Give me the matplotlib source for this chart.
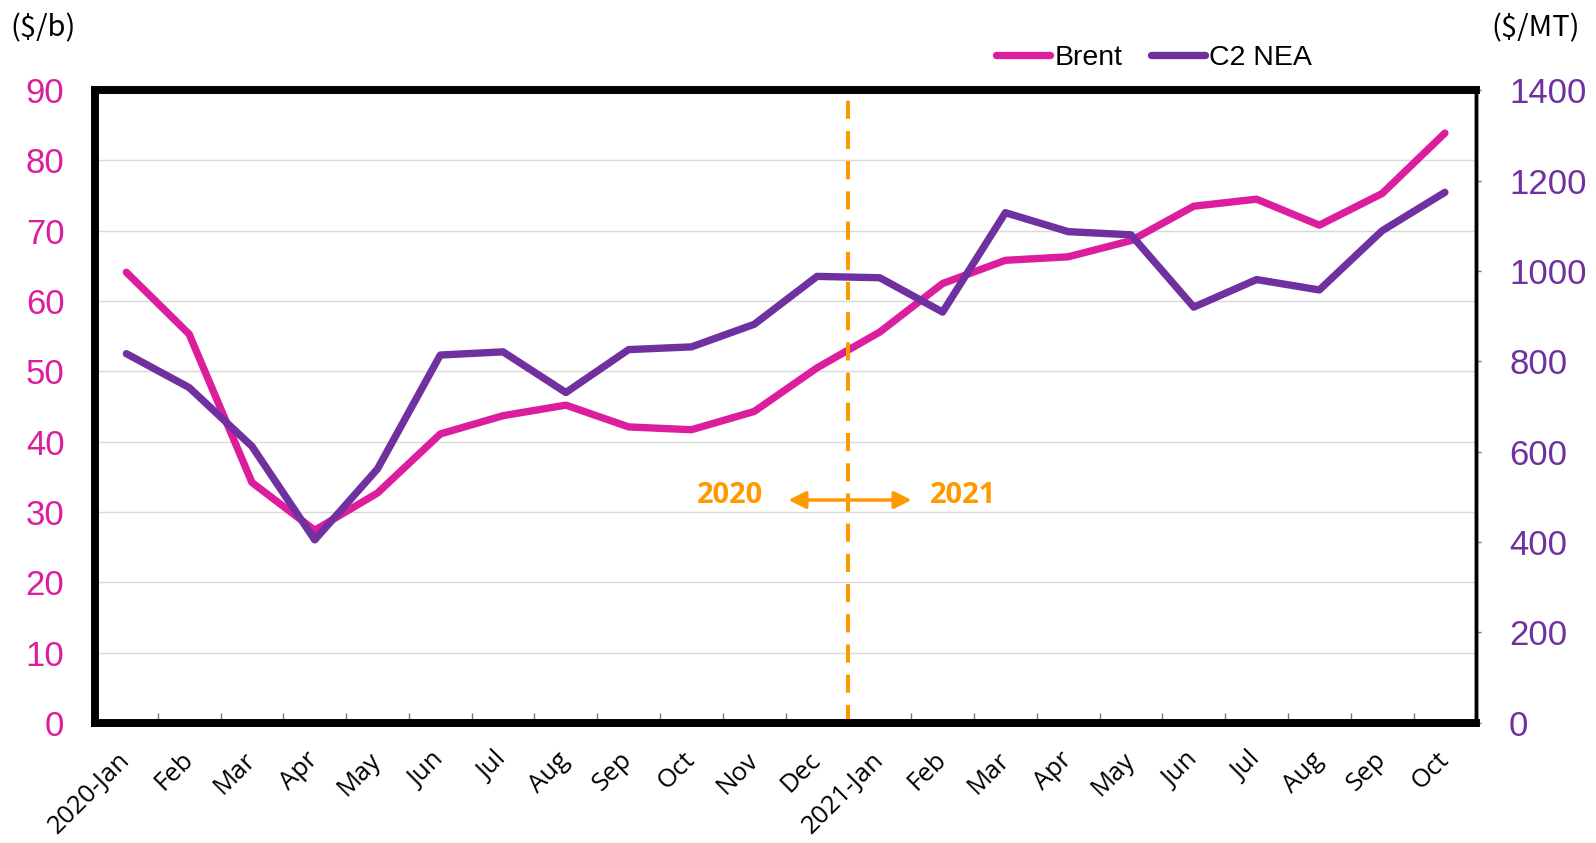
import matplotlib
matplotlib.use("Agg")
import matplotlib.pyplot as plt

plt.rcParams.update({"font.family": "Open Sans"})

months = ["2020-Jan", "Feb", "Mar", "Apr", "May", "Jun", "Jul", "Aug", "Sep", "Oct", "Nov", "Dec",
          "2021-Jan", "Feb", "Mar", "Apr", "May", "Jun", "Jul", "Aug", "Sep", "Oct"]
brent = [64.1, 55.3, 34.2, 27.4, 32.7, 41.1, 43.7, 45.2, 42.1, 41.7, 44.3, 50.5,
         55.6, 62.5, 65.8, 66.3, 68.6, 73.5, 74.5, 70.8, 75.3, 83.9]
c2_nea = [817, 742, 612, 405, 562, 814, 821, 731, 826, 832, 882, 988,
          985, 909, 1129, 1087, 1080, 920, 981, 958, 1089, 1174]
left_ticks = [0, 10, 20, 30, 40, 50, 60, 70, 80, 90]
right_ticks = [0, 200, 400, 600, 800, 1000, 1200, 1400]

C_BRENT = "#DC1E9E"
C_C2 = "#7030A0"
C_ORANGE = "#FF9900"
NUM_FONT = "Liberation Sans"
UNIT_FONT = ["Noto Sans CJK SC", "DejaVu Sans"]

fig = plt.figure(figsize=(15.96, 8.43), dpi=100)
ax = fig.add_axes([0.0595, 0.1425, 0.8655, 0.7505])
ax2 = ax.twinx()

x = list(range(len(months)))
ax.plot(x, brent, color=C_BRENT, lw=5.3, solid_joinstyle="round", solid_capstyle="round", label="Brent")
ax2.plot(x, c2_nea, color=C_C2, lw=5.3, solid_joinstyle="round", solid_capstyle="round", label="C2 NEA")

ax.set_xlim(-0.5, len(months) - 0.5)
ax.set_ylim(0, 90)
ax2.set_ylim(0, 1400)
ax.set_yticks(left_ticks)
ax2.set_yticks(right_ticks)
ax.yaxis.grid(True, color="#D9D9D9", lw=1)
ax.set_axisbelow(True)

# category labels centred, tick marks between categories
ax.set_xticks(x)
ax.set_xticklabels(months, rotation=45, ha="right", va="center", rotation_mode="anchor",
                   fontsize=18.5, family="Open Sans")
ax.tick_params(axis="x", length=0, pad=24)
ax.set_xticks([i + 0.5 for i in range(len(months) - 1)], minor=True)
ax.tick_params(axis="x", which="minor", direction="in", length=7, width=1, color="#777777")
ax.tick_params(axis="y", length=0, pad=22, labelsize=25, labelcolor=C_BRENT, labelfontfamily=NUM_FONT)
ax2.tick_params(axis="y", length=3.6, width=1, color="#777777", pad=20, labelsize=25,
                labelcolor=C_C2, labelfontfamily=NUM_FONT)

for s in ["left", "bottom", "top"]:
    ax.spines[s].set_linewidth(5.5)
    ax2.spines[s].set_linewidth(5.5)
ax2.spines["right"].set_linewidth(2.5)
ax.spines["right"].set_linewidth(2.5)

# year divider
ax.axvline(11.5, color=C_ORANGE, lw=2.9, ls=(0, (4.5, 3)))
ax.annotate("", xy=(10.5, 31.7), xytext=(12.55, 31.7),
            arrowprops=dict(arrowstyle="<|-|>", color=C_ORANGE, lw=2.5, mutation_scale=26))
ax.text(9.62, 32.3, "2020", color=C_ORANGE, fontsize=21, fontweight="bold", ha="center", va="center")
ax.text(13.33, 32.3, "2021", color=C_ORANGE, fontsize=21, fontweight="bold", ha="center", va="center")

fig.text(10 / 1596, 1 - 28 / 843, "($/b)", fontsize=21, va="center", ha="left", family=UNIT_FONT)
fig.text(1580 / 1596, 1 - 28 / 843, "($/MT)", fontsize=21, va="center", ha="right", family=UNIT_FONT)

h1, l1 = ax.get_legend_handles_labels()
h2, l2 = ax2.get_legend_handles_labels()
fig.legend(h1 + h2, l1 + l2, loc="center", bbox_to_anchor=(1154 / 1596, 1 - 58 / 843), ncol=2,
           frameon=False, handlelength=1.9, columnspacing=1.0, handletextpad=0.15,
           prop={"family": "Liberation Sans", "size": 20.5})

fig.savefig("out.png", dpi=100, facecolor="white")
